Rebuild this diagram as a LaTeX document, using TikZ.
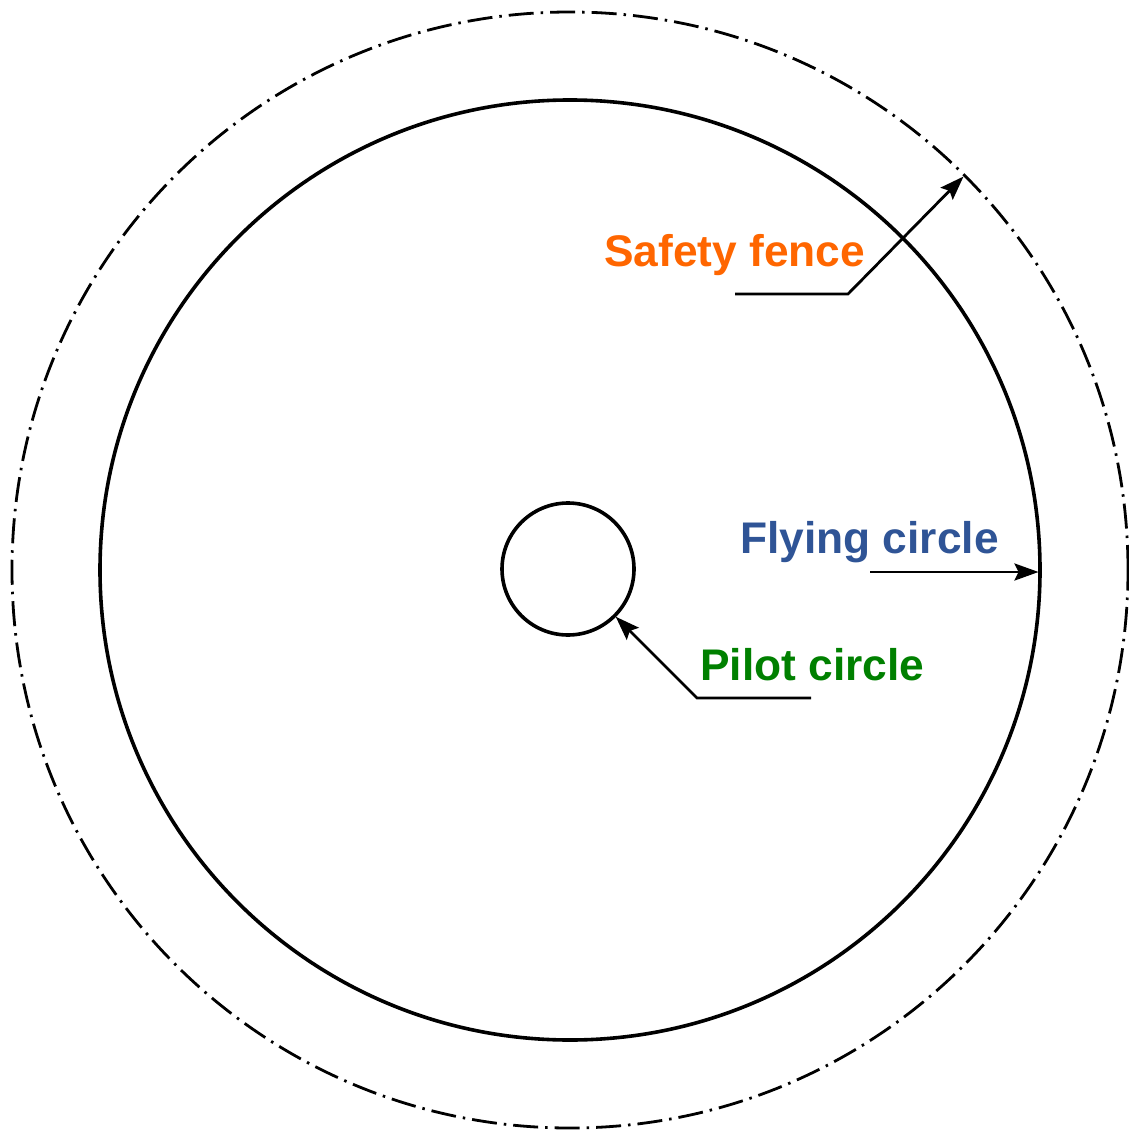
\documentclass[tikz,border=0pt]{standalone}
\usepackage{fontspec}
\setmainfont{Liberation Sans}
\usetikzlibrary{arrows.meta}
\definecolor{fenceorange}{RGB}{255,102,0}
\definecolor{flyblue}{RGB}{47,84,150}
\definecolor{pilotgreen}{RGB}{0,128,0}
\begin{document}
\begin{tikzpicture}[x=1pt,y=-1pt,
  ring/.style={circle,draw=black,inner sep=0pt,outer sep=0pt},
  lbl/.style={inner sep=0pt,anchor=base west,font=\fontsize{44.3}{52}\selectfont\bfseries},
  pointer/.style={draw=black,line width=2.8pt,-{Stealth[length=24pt,width=17pt,inset=4pt]},shorten >=1.5pt}
]
\useasboundingbox (0,0) rectangle (1128,1131);
% circles
\node[ring,line width=2.8pt,minimum size=1116pt,dash pattern=on 25pt off 7pt on 2.5pt off 7pt] (fence) at (570,570) {};
\node[ring,line width=3.6pt,minimum size=940pt] (fly) at (570,570) {};
\node[ring,line width=3.6pt,minimum size=132pt] (pilot) at (568,569) {};
% labels
\node[lbl,text=fenceorange] (sftxt) at (604,267) {Safety fence};
\node[lbl,text=flyblue] (fltxt) at (740,553) {Flying circle};
\node[lbl,text=pilotgreen] (pltxt) at (700,680) {Pilot circle};
% leader coordinates
\coordinate (sfa) at (735,294);
\coordinate (sfb) at (848,294);
\coordinate (fla) at (870,572);
\coordinate (pla) at (811,698);
\coordinate (plb) at (697,698);
% pointers
\draw[pointer,line join=miter] (sfa) -- (sfb) -- (fence.45);
\draw[pointer] (fla) -- (fla -| fly.east);
\draw[pointer,line join=miter] (pla) -- (plb) -- (pilot.-45);
\end{tikzpicture}
\end{document}
